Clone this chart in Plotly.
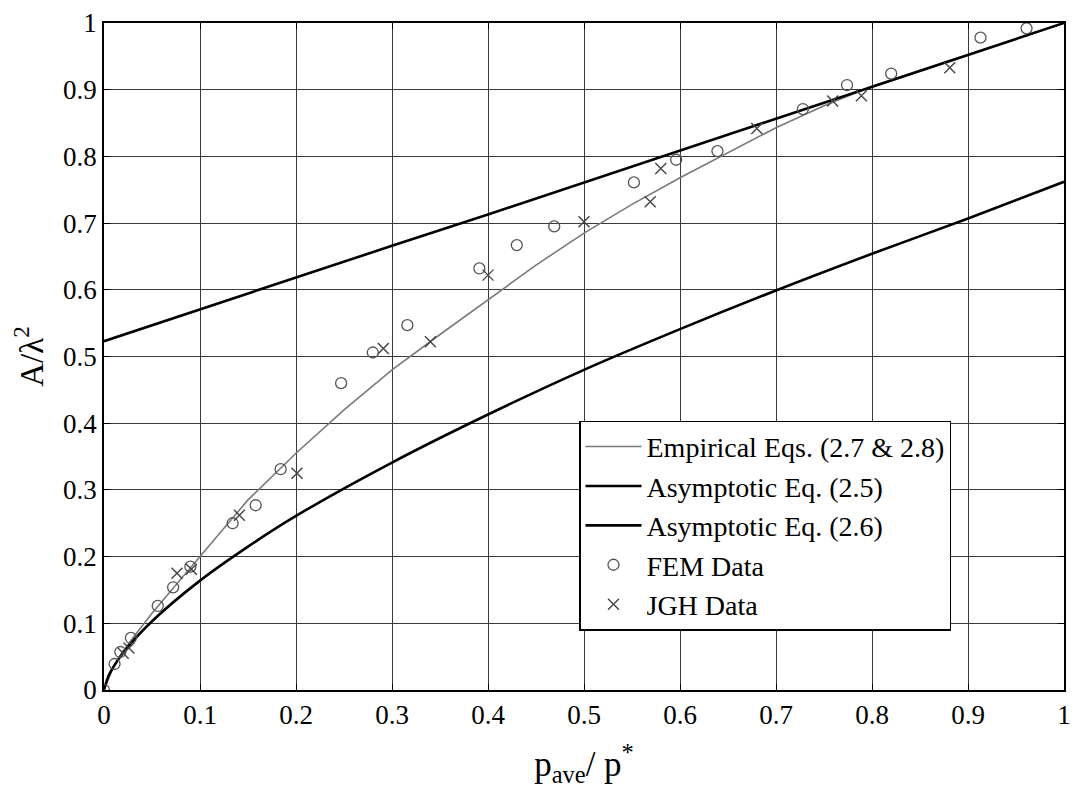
import plotly.graph_objects as go

# Empirical Eqs. (2.7 & 2.8) curve
emp_x = [0, 0.01, 0.02, 0.03, 0.05, 0.075, 0.1, 0.15, 0.2, 0.25, 0.3, 0.35, 0.4,
         0.45, 0.5, 0.55, 0.6, 0.65, 0.7, 0.75, 0.8, 0.85, 0.9, 0.95, 1.0]
emp_y = [0, 0.035, 0.058, 0.078, 0.115, 0.158, 0.2, 0.285, 0.355, 0.42, 0.48, 0.533,
         0.585, 0.637, 0.685, 0.728, 0.768, 0.806, 0.843, 0.876, 0.905, 0.929, 0.953,
         0.976, 1.0]

# Asymptotic Eq. (2.5)
a25_x = [0, 0.1, 0.2, 0.3, 0.4, 0.5, 0.6, 0.7, 0.8, 0.9, 1.0]
a25_y = [0.523, 0.571, 0.618, 0.666, 0.713, 0.761, 0.809, 0.857, 0.905, 0.952, 1.0]

# Asymptotic Eq. (2.6)
a26_x = [0, 0.005, 0.01, 0.02, 0.05, 0.1, 0.15, 0.2, 0.3, 0.4, 0.5, 0.6, 0.7, 0.8, 0.9, 1.0]
a26_y = [0, 0.022, 0.035, 0.056, 0.103, 0.164, 0.215, 0.261, 0.341, 0.413, 0.480,
         0.541, 0.599, 0.654, 0.707, 0.762]

# FEM Data
fem_x = [0, 0.011, 0.017, 0.028, 0.056, 0.072, 0.090, 0.134, 0.158, 0.184, 0.247,
         0.280, 0.316, 0.391, 0.430, 0.469, 0.552, 0.596, 0.639, 0.728, 0.774,
         0.820, 0.913, 0.961]
fem_y = [0, 0.039, 0.057, 0.078, 0.126, 0.154, 0.185, 0.250, 0.277, 0.331, 0.460,
         0.506, 0.547, 0.632, 0.667, 0.695, 0.761, 0.795, 0.808, 0.871, 0.907,
         0.924, 0.978, 0.992]

# JGH Data
jgh_x = [0.020, 0.026, 0.076, 0.091, 0.141, 0.201, 0.291, 0.340, 0.400, 0.500,
         0.569, 0.580, 0.680, 0.759, 0.789, 0.881]
jgh_y = [0.055, 0.063, 0.175, 0.181, 0.262, 0.325, 0.512, 0.522, 0.622, 0.702,
         0.732, 0.782, 0.842, 0.883, 0.891, 0.933]

tick_vals = [0, 0.1, 0.2, 0.3, 0.4, 0.5, 0.6, 0.7, 0.8, 0.9, 1]
tick_text = ["0", "0.1", "0.2", "0.3", "0.4", "0.5", "0.6", "0.7", "0.8", "0.9", "1"]

FONT = "Liberation Serif"

fig = go.Figure()
fig.add_trace(go.Scatter(x=emp_x, y=emp_y, mode="lines", name="Empirical Eqs. (2.7 &amp; 2.8)",
                         line=dict(color="#7a7a7a", width=1.6)))
fig.add_trace(go.Scatter(x=a25_x, y=a25_y, mode="lines", name="Asymptotic Eq. (2.5)",
                         line=dict(color="black", width=2.6)))
fig.add_trace(go.Scatter(x=a26_x, y=a26_y, mode="lines", name="Asymptotic Eq. (2.6)",
                         line=dict(color="black", width=2.6, shape="spline")))
fig.add_trace(go.Scatter(x=fem_x, y=fem_y, mode="markers", name="FEM Data",
                         marker=dict(symbol="circle-open", size=11, color="#555555",
                                     line=dict(width=1.3))))
fig.add_trace(go.Scatter(x=jgh_x, y=jgh_y, mode="markers", name="JGH Data",
                         marker=dict(symbol="x-thin-open", size=11, color="#444444",
                                     line=dict(width=1.4, color="#444444"))))

axis_common = dict(
    range=[0, 1], tickvals=tick_vals, ticktext=tick_text,
    showgrid=True, gridcolor="#3a3a3a", gridwidth=1,
    showline=True, linecolor="black", linewidth=1.5, mirror="ticks",
    ticks="inside", ticklen=6, tickcolor="black",
    zeroline=False, tickfont=dict(family=FONT, size=27, color="black"),
)

fig.update_layout(
    width=1079, height=788,
    margin=dict(l=104, r=8, t=16, b=98),
    paper_bgcolor="white", plot_bgcolor="white",
    font=dict(family=FONT, color="black"),
    showlegend=True,
    legend=dict(x=0.495, y=0.404, xanchor="left", yanchor="top",
                bgcolor="white", bordercolor="black", borderwidth=1.3,
                font=dict(family=FONT, size=28, color="black"),
                tracegroupgap=0, itemwidth=56),
    xaxis=dict(axis_common, title=dict(text="p<sub>ave</sub>/ p<sup>*</sup>",
                                       font=dict(family=FONT, size=35), standoff=22)),
    yaxis=dict(axis_common, title=dict(text="A/λ<sup>2</sup>",
                                       font=dict(family=FONT, size=33), standoff=10)),
)

fig.write_html("out.html")
